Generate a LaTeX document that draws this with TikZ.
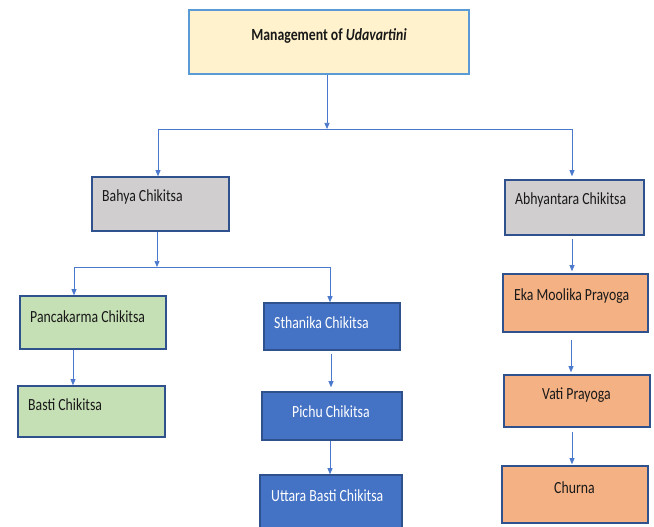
\documentclass[tikz,border=0pt]{standalone}
\usepackage{fontspec}
\setmainfont{Carlito}[FakeStretch=0.81]
\usetikzlibrary{arrows.meta}
\definecolor{topfill}{HTML}{FFF2CC}
\definecolor{topdraw}{HTML}{5B9BD5}
\definecolor{grayfill}{HTML}{D0CECE}
\definecolor{greenfill}{HTML}{C5E0B4}
\definecolor{bluefill}{HTML}{4472C4}
\definecolor{orangefill}{HTML}{F4B183}
\definecolor{darkedge}{HTML}{2F528F}
\definecolor{conncol}{HTML}{4A78CC}
\tikzset{
  boxbase/.style={draw=darkedge, line width=1.6pt, rectangle, inner sep=0pt},
  topbox/.style={boxbase, draw=topdraw, fill=topfill},
  graybox/.style={boxbase, fill=grayfill},
  greenbox/.style={boxbase, fill=greenfill},
  bluebox/.style={boxbase, fill=bluefill},
  orangebox/.style={boxbase, fill=orangefill},
  lbl/.style={inner sep=0pt, anchor=west, font=\fontsize{17}{19}\selectfont, text=black!90},
  wlbl/.style={lbl, text=white},
  conn/.style={draw=conncol, line width=0.7pt},
  arr/.style={conn, -{Triangle[length=6pt,width=5pt]}},
}
\begin{document}
\begin{tikzpicture}[x=1pt,y=1pt]
\useasboundingbox (0,0) rectangle (654,-527);
\clip (0,0) rectangle (654,-527);
% boxes
\node[topbox, minimum width=280pt, minimum height=64pt] (topb) at (329,-42) {};
\node[graybox, minimum width=137pt, minimum height=54pt] (bahya) at (160.5,-204) {};
\node[graybox, minimum width=139pt, minimum height=55pt] (abhy) at (574.5,-207.5) {};
\node[greenbox, minimum width=146pt, minimum height=53pt] (panca) at (93,-322.5) {};
\node[greenbox, minimum width=147pt, minimum height=51pt] (basti) at (91.5,-411.5) {};
\node[bluebox, minimum width=136pt, minimum height=47pt] (sthan) at (332,-326.5) {};
\node[bluebox, minimum width=140pt, minimum height=48pt] (pichu) at (332,-416) {};
\node[bluebox, minimum width=142pt, minimum height=57pt] (uttara) at (331,-503.5) {};
\node[orangebox, minimum width=145pt, minimum height=58pt] (eka) at (575.5,-303) {};
\node[orangebox, minimum width=146pt, minimum height=52pt] (vati) at (577,-401) {};
\node[orangebox, minimum width=146pt, minimum height=57pt] (churna) at (575,-494.5) {};
% labels
\node[lbl, anchor=center, font=\fontsize{17}{19}\selectfont\bfseries] (ttop) at (329,-36) {Management of \textit{Udavartini}};
\node[lbl] (tbahya) at (102,-197) {Bahya Chikitsa};
\node[lbl] (tabhy) at (515,-200) {Abhyantara Chikitsa};
\node[lbl] (tpanca) at (30,-317) {Pancakarma Chikitsa};
\node[lbl] (tbasti) at (28,-405) {Basti Chikitsa};
\node[wlbl] (tsthan) at (274,-323) {Sthanika Chikitsa};
\node[wlbl] (tpichu) at (292,-412) {Pichu Chikitsa};
\node[wlbl] (tuttara) at (271,-496) {Uttara Basti Chikitsa};
\node[lbl] (teka) at (514,-296) {Eka Moolika Prayoga};
\node[lbl] (tvati) at (542,-395) {Vati Prayoga};
\node[lbl] (tchurna) at (554,-488) {Churna};
% junctions
\coordinate (j1) at (327,-129);
\coordinate (j1l) at (158,-129);
\coordinate (j1r) at (572,-129);
\coordinate (j2) at (157,-267);
\coordinate (j2l) at (74,-267);
\coordinate (j2r) at (330,-267);
% connectors
\draw[arr] (topb.south -| j1) -- (j1);
\draw[conn] (j1l) -- (j1r);
\draw[arr] (j1l) -- (bahya.north -| j1l);
\draw[arr, shorten >=3pt] (j1r) -- (abhy.north -| j1r);
\draw[arr] (bahya.south -| j2) -- (j2);
\draw[conn] (j2l) -- (j2r);
\draw[arr] (j2l) -- (panca.north -| j2l);
\draw[arr] (j2r) -- (sthan.north -| j2r);
\draw[arr] (panca.south -| 73,0) -- (basti.north -| 73,0);
\draw[arr, shorten <=3pt, shorten >=4pt] (sthan.south -| 331,0) -- (pichu.north -| 331,0);
\draw[arr] (pichu.south -| 330,0) -- (uttara.north -| 330,0);
\draw[arr, shorten <=3pt, shorten >=2pt] (abhy.south -| 572,0) -- (eka.north -| 572,0);
\draw[arr, shorten <=7pt, shorten >=2pt] (eka.south -| 571,0) -- (vati.north -| 571,0);
\draw[arr, shorten <=4pt, shorten >=1pt] (vati.south -| 572,0) -- (churna.north -| 572,0);
\end{tikzpicture}
\end{document}
